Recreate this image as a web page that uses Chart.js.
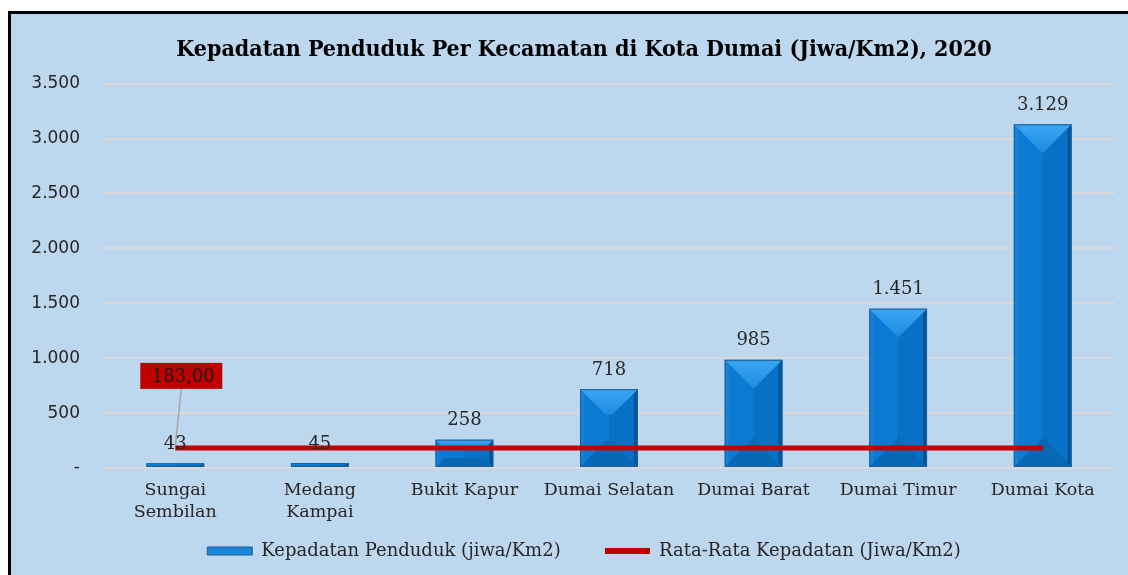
<!DOCTYPE html>
<html>
<head>
<meta charset="utf-8">
<script src="https://cdn.jsdelivr.net/npm/chart.js@4.4.1/dist/chart.umd.min.js"></script>
<style>
  html, body { margin: 0; padding: 0; background: #fff; overflow: hidden; width: 1128px; height: 575px; }
  #frame { position: absolute; left: 8px; top: 11px; width: 1160px; height: 600px; background: #BDD7EE;
           border-left: 3px solid #000; border-top: 3px solid #000; }
  canvas { display: block; }
</style>
</head>
<body>
<div id="frame"><canvas id="chart" width="1146" height="561"></canvas></div>
<script>
// data
const kecamatan = [['Sungai', 'Sembilan'], ['Medang', 'Kampai'], 'Bukit Kapur', 'Dumai Selatan', 'Dumai Barat', 'Dumai Timur', 'Dumai Kota'];
const kepadatan = [43, 45, 258, 718, 985, 1451, 3129];
const rataRata = [183, 183, 183, 183, 183, 183, 183];
const rataRataLabel = '183,00';
const yMin = 0, yMax = 3500, yStep = 500;

const serif = "'DejaVu Serif', serif";
const fmt = v => v === 0 ? '-' : String(v).replace(/\B(?=(\d{3})+(?!\d))/g, '.');

// bevel look on the bars
const barShade = {
  id: 'barShade',
  afterDatasetDraw(chart, args) {
    if (args.index !== 0) return;
    const ctx = chart.ctx;
    args.meta.data.forEach(bar => {
      const w = bar.width, l = bar.x - w / 2, r = bar.x + w / 2, t = bar.y, b = bar.base;
      const h = b - t;
      const d = Math.min(w / 2, h * 0.33);
      ctx.save();
      ctx.beginPath();
      ctx.rect(l, t, w, h);
      ctx.clip();
      ctx.fillStyle = 'rgba(0,40,100,0.12)';
      ctx.fillRect(bar.x, t, w / 2, h);
      ctx.fillStyle = 'rgba(0,30,80,0.35)';
      ctx.fillRect(r - 4, t, 4, h);
      ctx.fillStyle = 'rgba(255,255,255,0.06)';
      ctx.fillRect(l, t, 4, h);
      ctx.fillStyle = '#0868B4';
      ctx.beginPath();
      ctx.moveTo(l, b); ctx.lineTo(r, b); ctx.lineTo(r - d, b - d); ctx.lineTo(l + d, b - d); ctx.closePath();
      ctx.fill();
      const g = ctx.createLinearGradient(0, t, 0, t + d);
      g.addColorStop(0, '#38A6F2');
      g.addColorStop(1, '#1E8BDF');
      ctx.fillStyle = g;
      ctx.beginPath();
      ctx.moveTo(l, t); ctx.lineTo(r, t); ctx.lineTo(r - d, t + d); ctx.lineTo(l + d, t + d); ctx.closePath();
      ctx.fill();
      ctx.restore();
      ctx.strokeStyle = '#1B5F96';
      ctx.lineWidth = 1;
      ctx.strokeRect(l + 0.5, t + 0.5, w - 1, h - 1);
    });
  }
};

// value labels and the average callout
const valueLabels = {
  id: 'valueLabels',
  afterDatasetsDraw(chart) {
    const ctx = chart.ctx;
    ctx.save();
    ctx.font = '18px ' + serif;
    ctx.textAlign = 'center';
    ctx.textBaseline = 'middle';
    ctx.fillStyle = '#262626';
    chart.getDatasetMeta(0).data.forEach((bar, i) => {
      ctx.fillText(fmt(kepadatan[i]), bar.x, bar.y - 19);
    });

    const pt = chart.getDatasetMeta(1).data[0];
    const bx = pt.x + 6, by = pt.y - 72, bw = 82, bh = 26;
    ctx.strokeStyle = '#A6A6A6';
    ctx.lineWidth = 1.5;
    ctx.beginPath();
    ctx.moveTo(bx, by + bh / 2);
    ctx.lineTo(pt.x, pt.y - 2);
    ctx.stroke();
    ctx.fillStyle = '#C00000';
    ctx.fillRect(bx - bw / 2, by - bh / 2, bw, bh);
    ctx.fillStyle = '#1a1a1a';
    ctx.fillText(rataRataLabel, bx + 2, by + 1);
    ctx.restore();
  }
};

new Chart(document.getElementById('chart'), {
  data: {
    labels: kecamatan,
    datasets: [
      {
        type: 'bar',
        label: 'Kepadatan Penduduk (jiwa/Km2)',
        data: kepadatan,
        backgroundColor: '#0A7AD3',
        borderWidth: 0,
        categoryPercentage: 1,
        barPercentage: 0.4,
        order: 1
      },
      {
        type: 'line',
        label: 'Rata-Rata Kepadatan (Jiwa/Km2)',
        data: rataRata,
        borderColor: '#C00000',
        backgroundColor: '#C00000',
        borderWidth: 5,
        pointRadius: 0,
        order: 0
      }
    ]
  },
  options: {
    responsive: false,
    animation: false,
    layout: { padding: { top: 10, left: 0, right: 0, bottom: 5 } },
    plugins: {
      title: {
        display: true,
        text: 'Kepadatan Penduduk Per Kecamatan di Kota Dumai (Jiwa/Km2), 2020',
        color: '#000',
        font: { family: "'DejaVu Serif Condensed', 'DejaVu Serif', serif", size: 23, weight: 'bold', lineHeight: 1.2 },
        padding: { top: 12, bottom: 20 }
      },
      legend: {
        position: 'bottom',
        labels: {
          usePointStyle: true,
          pointStyleWidth: 45,
          boxHeight: 8,
          padding: 10,
          color: '#262626',
          font: { family: serif, size: 18 },
          sort: (a, b) => a.datasetIndex - b.datasetIndex,
          generateLabels(chart) {
            const items = Chart.defaults.plugins.legend.labels.generateLabels(chart);
            items.forEach(item => {
              if (item.datasetIndex === 0) {
                item.pointStyle = 'rect';
                item.fillStyle = '#1C86DA';
                item.strokeStyle = '#1B5F96';
                item.lineWidth = 1;
                item.text = item.text + '      ';
              } else {
                item.pointStyle = 'line';
                item.strokeStyle = '#C00000';
                item.lineWidth = 6;
              }
            });
            return items;
          }
        }
      },
      tooltip: { enabled: false }
    },
    scales: {
      x: {
        offset: true,
        grid: { display: false, drawTicks: false },
        border: { display: false },
        ticks: { color: '#262626', font: { family: serif, size: 17.5, lineHeight: 1.257 }, padding: 11, maxRotation: 0, autoSkip: false },
        afterFit(scale) { scale.height = 64; }
      },
      y: {
        min: yMin,
        max: yMax,
        grid: { color: '#D9D9D9', lineWidth: 2, drawTicks: false },
        border: { display: false },
        ticks: {
          stepSize: yStep,
          padding: 23,
          color: '#262626',
          font: { family: "'DejaVu Sans', sans-serif", size: 17 },
          callback: v => fmt(v)
        },
        afterFit(scale) { scale.width = 92; }
      },
      // empty right margin so the title stays centred on the whole box
      yRight: {
        type: 'linear',
        position: 'right',
        display: true,
        grid: { display: false, drawTicks: false },
        border: { display: false },
        ticks: { display: false },
        afterFit(scale) { scale.width = 42; }
      }
    }
  },
  plugins: [barShade, valueLabels]
});
</script>
</body>
</html>
